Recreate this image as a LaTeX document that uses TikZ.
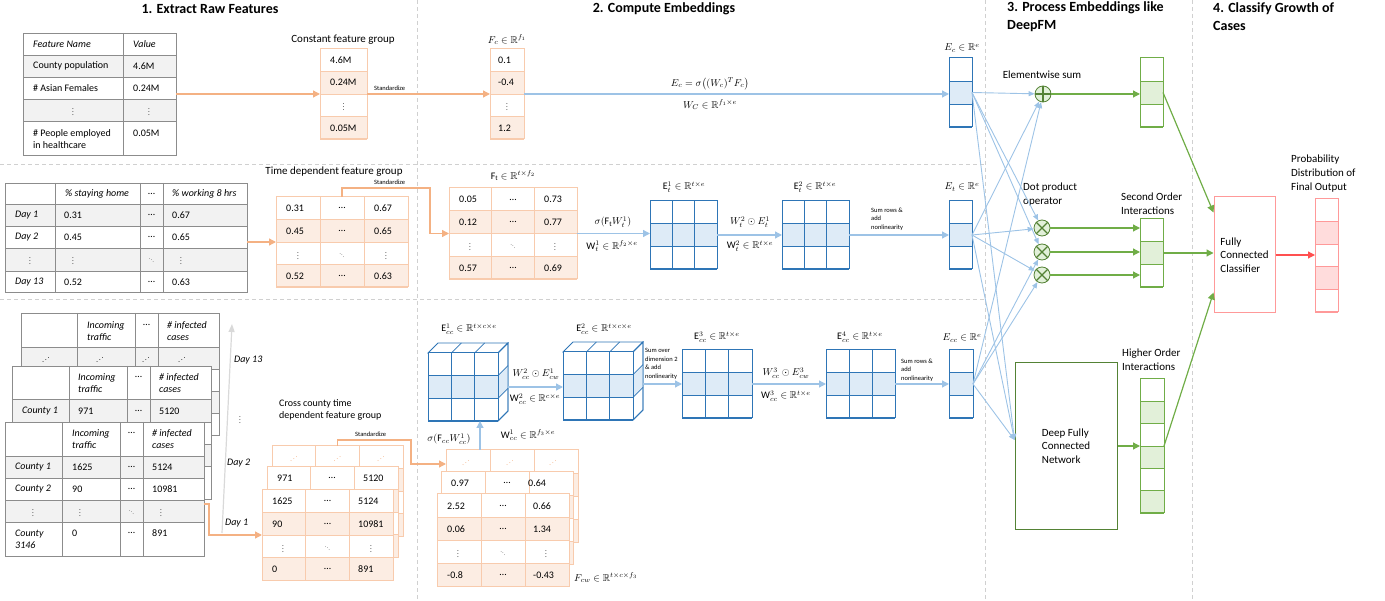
\documentclass[tikz,border=0pt]{standalone}
\usepackage{fontspec}
\setmainfont{Carlito}
\usepackage{amsmath,amssymb}
\usepackage{graphicx}
\usetikzlibrary{arrows.meta,calc,fit}

\definecolor{tgray}{HTML}{8C8C8C}
\definecolor{rowgray}{HTML}{F2F2F2}
\definecolor{oline}{HTML}{F8CBAD}
\definecolor{ofill}{HTML}{FCEDE3}
\definecolor{oarrow}{HTML}{F4B183}
\definecolor{bline}{HTML}{2E75B6}
\definecolor{bfill}{HTML}{DEEBF7}
\definecolor{barrow}{HTML}{9DC3E6}
\definecolor{gline}{HTML}{70AD47}
\definecolor{gdark}{HTML}{548235}
\definecolor{gfill}{HTML}{E2F0D9}
\definecolor{garrow}{HTML}{70AD47}
\definecolor{rline}{HTML}{FF9999}
\definecolor{rfill}{HTML}{FFDCDC}
\definecolor{rarrow}{HTML}{FF5050}
\definecolor{dashgray}{HTML}{D0D0D0}
\definecolor{axisgray}{HTML}{D9D9D9}

\newcommand{\myvd}{\scalebox{0.7}{$\vdots$}}
\newcommand{\mydd}{\scalebox{0.5}{$\ddots$}}
\newcommand{\myud}{\reflectbox{\scalebox{0.75}{$\ddots$}}}

\tikzset{
  bx/.style={inner sep=0pt, outer sep=0pt},
  tbl/.style={draw=tgray, line width=0.8pt},
  lt/.style={anchor=west, inner sep=0pt, font=\fontsize{10}{12}\selectfont},
  ct/.style={inner sep=0pt, font=\fontsize{10}{12}\selectfont},
  lbl/.style={inner sep=0pt, font=\fontsize{11}{14}\selectfont},
  mlab/.style={inner sep=0pt, font=\fontsize{10}{12}\selectfont},
  tinylab/.style={inner sep=0pt, font=\fontsize{6.5}{8.5}\selectfont, align=left, anchor=west},
  oarr/.style={draw=oarrow, line width=1.3pt, -{Triangle[length=7pt,width=7pt]}},
  barr/.style={draw=barrow, line width=1.3pt, -{Triangle[length=7pt,width=7pt]}},
  fan/.style={draw=barrow, line width=0.9pt, -{Triangle[length=6pt,width=5pt]}},
  garr/.style={draw=garrow, line width=1.2pt, -{Triangle[length=7pt,width=7pt]}},
  rarr/.style={draw=rarrow, line width=1.2pt, -{Triangle[length=7pt,width=7pt]}},
  sep/.style={draw=dashgray, line width=0.8pt, dash pattern=on 4pt off 3pt},
  ttl/.style={font=\fontsize{14}{18}\selectfont\bfseries, inner sep=0pt},
  circ/.style={circle, draw=gdark, fill=gfill, line width=0.8pt, minimum size=16pt, inner sep=0pt},
}

% name, x0, y0, w, h, ncols, nrows, filled rows, colour prefix
\newcommand{\mgrid}[9]{%
  \fill[white] (#2,#3) rectangle ++(#4,#5);
  \foreach \myr in {#8} {\fill[#9fill] (#2,{#3+(\myr-1)*(#5)/(#7)}) rectangle ++(#4,{(#5)/(#7)});}
  \foreach \myr in {1,...,#7} {\draw[#9line, line width=0.8pt] (#2,{#3+\myr*(#5)/(#7)}) -- ++(#4,0);}
  \foreach \myc in {1,...,#6} {\draw[#9line, line width=0.8pt] ({#2+\myc*(#4)/(#6)},#3) -- ++(0,#5);}
  \node[bx, draw=#9line, line width=1pt, fit={(#2,#3) (#2+#4,#3+#5)}] (#1) {};
}
% cube top and right faces: x0 y0 w h
\newcommand{\cubeside}[4]{%
  \filldraw[bline, line width=0.8pt, fill=white] (#1,#2) -- ++(10,-10) -- ++(#3,0) -- ++(-10,10) -- cycle;
  \filldraw[bline, line width=0.8pt, fill=white] (#1+#3,#2) -- ++(10,-10) -- ++(0,#4) -- ++(-10,10) -- cycle;
  \fill[bfill] (#1+#3,{#2+(#4)/3}) -- ++(10,-10) -- ++(0,{(#4)/3}) -- ++(-10,10) -- cycle;
  \draw[bline, line width=0.8pt] ({#1+(#3)/3},#2) -- ++(10,-10) ({#1+2*(#3)/3},#2) -- ++(10,-10);
  \draw[bline, line width=0.8pt] (#1+#3,{#2+(#4)/3}) -- ++(10,-10) (#1+#3,{#2+2*(#4)/3}) -- ++(10,-10);
  \draw[bline, line width=0.8pt] (#1+#3,#2) -- ++(10,-10) -- ++(0,#4) -- ++(-10,10);
}

\begin{document}
\begin{tikzpicture}[x=1pt,y=-1pt]
\useasboundingbox (0,0) rectangle (1385,601);

% separators
\draw[sep] (417,0) -- (417,601);
\draw[sep] (985,0) -- (985,601);
\draw[sep] (1192,0) -- (1192,601);
\draw[sep] (0,164) -- (985,164);
\draw[sep] (0,299) -- (985,299);

% titles
\node[ttl] (h1) at (210,9) {1. Extract Raw Features};
\node[ttl] (h2) at (664,9) {2. Compute Embeddings};
\node[ttl, anchor=west, align=left] (h3) at (1007,17) {3. Process Embeddings like\\DeepFM};
\node[ttl, anchor=west, align=left] (h4) at (1213,17) {4. Classify Growth of\\Cases};

%================ Row 1 =================
\fill[rowgray] (23,55) rectangle (176,77);
\fill[rowgray] (23,99) rectangle (176,121);
\foreach \yy in {55,77,99,121} \draw[tbl] (23,\yy) -- (176,\yy);
\draw[tbl] (123,33) -- (123,155);
\node[bx, draw=tgray, line width=0.8pt, fit={(23,33) (176,155)}] (t1) {};
\node[lt] (t1a) at (33,44) {\textit{Feature Name}};
\node[lt] (t1b) at (133,44) {\textit{Value}};
\node[lt] (t1c) at (33,66) {County population};
\node[lt] (t1d) at (133,66) {4.6M};
\node[lt] (t1e) at (33,88) {\# Asian Females};
\node[lt] (t1f) at (133,88) {0.24M};
\node[ct] (t1g) at (73,110) {\myvd};
\node[ct] (t1h) at (149,110) {\myvd};
\node[lt, align=left] (t1i) at (33,139) {\# People employed\\in healthcare};
\node[lt] (t1j) at (133,133) {0.05M};

\node[lbl] (cfgl) at (343,40) {Constant feature group};
\mgrid{cfg}{320}{49}{47}{90}{1}{4}{2,4}{o}
\node[lt] (c1) at (330,60) {4.6M};
\node[lt] (c2) at (330,82) {0.24M};
\node[ct] (c3) at (343.5,105) {\myvd};
\node[lt] (c4) at (330,128) {0.05M};

\draw[oarr] (t1.east) -- (cfg.west);
\draw[oarr] (cfg.east) -- (cfg.east -| 490,0);
\node[tinylab] (std1) at (374,88) {Standardize};

\node[mlab] (Fcl) at (507,40) {$F_c\in\mathbb{R}^{f_1}$};
\mgrid{Fc}{490}{49}{34}{90}{1}{4}{2,4}{o}
\node[lt] (f1) at (498,60) {0.1};
\node[lt] (f2) at (498,82) {-0.4};
\node[ct] (f3) at (507,105) {\myvd};
\node[lt] (f4) at (498,128) {1.2};

\mgrid{Ec}{949}{58}{23}{69}{1}{3}{2}{b}
\node[mlab] (Ecl) at (962,48) {$E_c\in\mathbb{R}^{e}$};
\draw[barr] (Fc.east) -- (Fc.east -| Ec.west);
\node[mlab] (eq1) at (710,84) {$E_c=\sigma\big((W_c)^T F_c\big)$};
\node[mlab] (eq2) at (710,105) {$W_C\in\mathbb{R}^{f_1\times e}$};

%================ Row 2 =================
\fill[rowgray] (5,204) rectangle (247,226);
\fill[rowgray] (5,248) rectangle (247,271);
\foreach \yy in {204,226,248,271} \draw[tbl] (5,\yy) -- (247,\yy);
\foreach \xx in {55,140,163} \draw[tbl] (\xx,183) -- (\xx,292);
\node[bx, draw=tgray, line width=0.8pt, fit={(5,183) (247,292)}] (t2) {};
\node[lt] (t2a) at (65,194) {\textit{\% staying home}};
\node[ct] (t2b) at (151.5,194) {…};
\node[lt] (t2c) at (172,194) {\textit{\% working 8 hrs}};
\node[lt] (t2d) at (15,215) {\textit{Day 1}};
\node[lt] (t2e) at (64,215) {0.31};
\node[ct] (t2f) at (151.5,215) {…};
\node[lt] (t2g) at (172,215) {0.67};
\node[lt] (t2h) at (15,237) {\textit{Day 2}};
\node[lt] (t2i) at (64,237) {0.45};
\node[ct] (t2j) at (151.5,237) {…};
\node[lt] (t2k) at (172,237) {0.65};
\node[ct] (t2l) at (30,259) {\myvd};
\node[ct] (t2m) at (73,259) {\myvd};
\node[ct] (t2n) at (151.5,259) {\mydd};
\node[ct] (t2o) at (181,259) {\myvd};
\node[lt] (t2p) at (15,282) {\textit{Day 13}};
\node[lt] (t2q) at (64,282) {0.52};
\node[ct] (t2r) at (151.5,282) {…};
\node[lt] (t2s) at (172,282) {0.63};

\node[lbl] (tml) at (334,172) {Time dependent feature group};
\mgrid{tm}{276}{197}{132}{90}{3}{4}{2,4}{o}
\node[lt] (m1) at (286,208) {0.31};
\node[ct] (m2) at (342,208) {…};
\node[lt] (m3) at (374,208) {0.67};
\node[lt] (m4) at (286,231) {0.45};
\node[ct] (m5) at (342,231) {…};
\node[lt] (m6) at (374,231) {0.65};
\node[ct] (m7) at (298,254) {\myvd};
\node[ct] (m8) at (342,254) {\mydd};
\node[ct] (m9) at (386,254) {\myvd};
\node[lt] (m10) at (286,276) {0.52};
\node[ct] (m11) at (342,276) {…};
\node[lt] (m12) at (374,276) {0.63};
\draw[oarr] (t2.east |- tm.west) -- (tm.west);

\mgrid{Ft}{449}{188}{128}{91}{3}{4}{2,4}{o}
\node[mlab] (Ftl) at (513,176) {$\mathrm{F_t}\in\mathbb{R}^{t\times f_2}$};
\node[lt] (n1) at (459,199.5) {0.05};
\node[ct] (n2) at (513,199.5) {…};
\node[lt] (n3) at (544,199.5) {0.73};
\node[lt] (n4) at (459,222) {0.12};
\node[ct] (n5) at (513,222) {…};
\node[lt] (n6) at (544,222) {0.77};
\node[ct] (n7) at (470,245) {\myvd};
\node[ct] (n8) at (513,245) {\mydd};
\node[ct] (n9) at (555,245) {\myvd};
\node[lt] (n10) at (459,268) {0.57};
\node[ct] (n11) at (513,268) {…};
\node[lt] (n12) at (544,268) {0.69};
\draw[oarr] (tm.north) -- ++(0,-9) -| ([xshift=-19pt]Ft.west) -- (Ft.west);
\node[tinylab] (std2) at (374,182) {Standardize};

\mgrid{Et1}{650}{201}{67}{68}{3}{3}{2}{b}
\mgrid{Et2}{782}{201}{67}{68}{3}{3}{2}{b}
\mgrid{Et}{949}{201}{23}{68}{1}{3}{2}{b}
\node[mlab] (Et1l) at (684,187) {$\mathrm{E}_t^1\in\mathbb{R}^{t\times e}$};
\node[mlab] (Et2l) at (815,187) {$\mathrm{E}_t^2\in\mathbb{R}^{t\times e}$};
\node[mlab] (Etl) at (962,187) {$E_t\in\mathbb{R}^{e}$};
\draw[barr] (Ft.east) -- (Ft.east -| Et1.west);
\node[mlab] (eq3) at (613,222) {$\sigma(\mathrm{F_t}W_t^1)$};
\node[mlab] (eq4) at (612,246) {$\mathrm{W}_t^1\in\mathbb{R}^{f_2\times e}$};
\draw[barr] (Et1.east) -- (Et2.west);
\node[mlab] (eq5) at (750,222) {$W_t^2\odot E_t^1$};
\node[mlab] (eq6) at (750,246) {$\mathrm{W}_t^2\in\mathbb{R}^{t\times e}$};
\draw[barr] (Et2.east) -- (Et.west);
\node[tinylab] (sr1) at (871,219) {Sum rows \&\\add\\nonlinearity};

%================ Row 3 =================
% back table
\fill[white] (21,313) rectangle (219,435);
\fill[rowgray] (21,347) rectangle (219,369);
\fill[rowgray] (21,391) rectangle (219,413);
\foreach \yy in {347,369,391,413} \draw[tbl] (21,\yy) -- (219,\yy);
\foreach \xx in {77,135,158} \draw[tbl] (\xx,313) -- (\xx,435);
\node[bx, draw=tgray, line width=0.8pt, fit={(21,313) (219,435)}] (BT) {};
\node[lt, align=left, font=\fontsize{10}{12}\selectfont\itshape] (bt1) at (87,331) {Incoming\\traffic};
\node[ct] (bt2) at (146.5,325) {…};
\node[lt, align=left, font=\fontsize{10}{12}\selectfont\itshape] (bt3) at (167,331) {\# infected\\cases};
\node[ct] (bt4) at (46,358) {\myud};
\node[ct] (bt5) at (100,358) {\myud};
\node[ct] (bt6) at (146,358) {\myud};
\node[ct] (bt7) at (182,358) {\myud};

% middle table
\fill[white] (12,366) rectangle (211,499);
\fill[rowgray] (12,399) rectangle (211,422);
\fill[rowgray] (12,444) rectangle (211,466);
\foreach \yy in {399,422,444,466} \draw[tbl] (12,\yy) -- (211,\yy);
\foreach \xx in {69,127,150} \draw[tbl] (\xx,366) -- (\xx,499);
\node[bx, draw=tgray, line width=0.8pt, fit={(12,366) (211,499)}] (MT) {};
\node[lt, align=left, font=\fontsize{10}{12}\selectfont\itshape] (mt1) at (78,383) {Incoming\\traffic};
\node[ct] (mt2) at (138.5,377) {…};
\node[lt, align=left, font=\fontsize{10}{12}\selectfont\itshape] (mt3) at (159,383) {\# infected\\cases};
\node[lt] (mt4) at (22,411) {\textit{County 1}};
\node[lt] (mt5) at (78,411) {971};
\node[ct] (mt6) at (138.5,411) {…};
\node[lt] (mt7) at (159,411) {5120};

% front table
\fill[white] (5,422) rectangle (204,556);
\fill[rowgray] (5,456) rectangle (204,478);
\fill[rowgray] (5,500) rectangle (204,522);
\foreach \yy in {456,478,500,522} \draw[tbl] (5,\yy) -- (204,\yy);
\foreach \xx in {62,120,143} \draw[tbl] (\xx,422) -- (\xx,556);
\node[bx, draw=tgray, line width=0.8pt, fit={(5,422) (204,556)}] (FT) {};
\node[lt, align=left, font=\fontsize{10}{12}\selectfont\itshape] (ft1) at (72,439) {Incoming\\traffic};
\node[ct] (ft2) at (131.5,433) {…};
\node[lt, align=left, font=\fontsize{10}{12}\selectfont\itshape] (ft3) at (152,439) {\# infected\\cases};
\node[lt] (ft4) at (15,467) {\textit{County 1}};
\node[lt] (ft5) at (72,467) {1625};
\node[ct] (ft6) at (131.5,467) {…};
\node[lt] (ft7) at (152,467) {5124};
\node[lt] (ft8) at (15,489) {\textit{County 2}};
\node[lt] (ft9) at (72,489) {90};
\node[ct] (ft10) at (131.5,489) {…};
\node[lt] (ft11) at (152,489) {10981};
\node[ct] (ft12) at (33,511) {\myvd};
\node[ct] (ft13) at (80,511) {\myvd};
\node[ct] (ft14) at (131.5,511) {\mydd};
\node[ct] (ft15) at (161,511) {\myvd};
\node[lt, align=left, font=\fontsize{10}{12}\selectfont\itshape] (ft16) at (15,539) {County\\3146};
\node[lt] (ft17) at (72,533) {0};
\node[ct] (ft18) at (131.5,533) {…};
\node[lt] (ft19) at (152,533) {891};

% day axis
\coordinate (d0) at (222,533);
\coordinate (d1) at (232,324);
\draw[draw=axisgray, line width=1.2pt, -{Triangle[length=8pt,width=6pt]}] (d0) -- (d1);
\node[lt, font=\fontsize{10}{12}\selectfont\itshape] (dy13) at (234,360) {Day 13};
\node[ct] (dyv) at (240,418) {\myvd};
\node[lt, font=\fontsize{10}{12}\selectfont\itshape] (dy2) at (227,463) {Day 2};
\node[lt, font=\fontsize{10}{12}\selectfont\itshape] (dy1) at (225,523) {Day 1};

\node[lbl, anchor=west, align=left, font=\fontsize{10}{12}\selectfont] (ccl) at (279,410) {Cross county time\\dependent feature group};

% cross county feature stack
\mgrid{ccB}{272}{446}{131}{90}{3}{4}{2,4}{o}
\mgrid{ccM}{267}{467}{131}{90}{3}{4}{2,4}{o}
\mgrid{ccF}{262}{490}{131}{90}{3}{4}{2,4}{o}
\node[ct, text=oarrow] (cb1) at (294,457) {\myud};
\node[ct, text=oarrow] (cb2) at (337.5,457) {\myud};
\node[ct, text=oarrow] (cb3) at (381,457) {\myud};
\node[lt] (cm1) at (277,478) {971};
\node[ct] (cm2) at (332,478) {…};
\node[lt] (cm3) at (363,478) {5120};
\node[lt] (cf1) at (272,501) {1625};
\node[ct] (cf2) at (327.5,501) {…};
\node[lt] (cf3) at (358,501) {5124};
\node[lt] (cf4) at (272,524) {90};
\node[ct] (cf5) at (327.5,524) {…};
\node[lt] (cf6) at (358,524) {10981};
\node[ct] (cf7) at (283,547) {\myvd};
\node[ct] (cf8) at (327.5,547) {\mydd};
\node[ct] (cf9) at (371,547) {\myvd};
\node[lt] (cf10) at (272,569) {0};
\node[ct] (cf11) at (327.5,569) {…};
\node[lt] (cf12) at (358,569) {891};

\coordinate (ftout) at (204,504);
\draw[oarr] (ftout) -- ++(5,0) |- (ccF.west);

% Fcw stack
\mgrid{fwB}{446}{450}{132}{92}{3}{4}{2,4}{o}
\mgrid{fwM}{441}{472}{132}{92}{3}{4}{2,4}{o}
\mgrid{fwF}{437}{494}{132}{92}{3}{4}{2,4}{o}
\node[ct, text=oarrow] (wb1) at (466,461) {\myud};
\node[ct, text=oarrow] (wb2) at (510,461) {\myud};
\node[ct, text=oarrow] (wb3) at (553,461) {\myud};
\node[lt] (wm1) at (451,483) {0.97};
\node[ct] (wm2) at (507,483) {…};
\node[lt] (wm3) at (528,483) {0.64};
\node[lt] (wf1) at (447,506) {2.52};
\node[ct] (wf2) at (503,506) {…};
\node[lt] (wf3) at (533,506) {0.66};
\node[lt] (wf4) at (447,529) {0.06};
\node[ct] (wf5) at (503,529) {…};
\node[lt] (wf6) at (533,529) {1.34};
\node[ct] (wf7) at (458,552) {\myvd};
\node[ct] (wf8) at (503,552) {\mydd};
\node[ct] (wf9) at (546,552) {\myvd};
\node[lt] (wf10) at (447,575) {-0.8};
\node[ct] (wf11) at (503,575) {…};
\node[lt] (wf12) at (533,575) {-0.43};
\node[mlab, anchor=west] (Fcwl) at (574,578) {$F_{cw}\in\mathbb{R}^{t\times c\times f_3}$};

\draw[oarr] (ccB.north) -- ++(0,-6) -| ($(fwB.north west)+(-35,14)$) -- ($(fwB.north west)+(0,14)$);
\node[tinylab] (std3) at (355,434) {Standardize};

% cubes
\cubeside{428}{353}{70}{68}
\mgrid{E1}{428}{353}{70}{68}{3}{3}{2}{b}
\cubeside{563}{352}{70}{68}
\mgrid{E2}{563}{352}{70}{68}{3}{3}{2}{b}
\node[mlab] (E1l) at (469,329) {$\mathrm{E}_{cc}^1\in\mathbb{R}^{t\times c\times e}$};
\node[mlab] (E2l) at (604,329) {$\mathrm{E}_{cc}^2\in\mathbb{R}^{t\times c\times e}$};

\coordinate (fwtop) at ($(fwB.north west)+(34,0)$);
\draw[barr] (fwtop) -- (fwtop |- E1.south);
\node[mlab] (eq7) at (449,439) {$\sigma(\mathrm{F}_{cc}W_{cc}^1)$};
\node[mlab] (eq8) at (528,435) {$\mathrm{W}_{cc}^1\in\mathbb{R}^{f_3\times e}$};

\coordinate (E1r) at ($(E1.east)+(10,0)$);
\draw[barr] (E1r) -- (E1r -| E2.west);
\node[mlab] (eq9) at (536,374) {$W_{cc}^2\odot E_{cw}^1$};
\node[mlab] (eq10) at (535,399) {$\mathrm{W}_{cc}^2\in\mathbb{R}^{c\times e}$};

\mgrid{E3}{682}{350}{70}{68}{3}{3}{2}{b}
\mgrid{E4}{826}{350}{69}{68}{3}{3}{2}{b}
\mgrid{Ecc}{949}{350}{24}{68}{1}{3}{2}{b}
\node[mlab] (E3l) at (717,337) {$\mathrm{E}_{cc}^3\in\mathbb{R}^{t\times e}$};
\node[mlab] (E4l) at (860,337) {$\mathrm{E}_{cc}^4\in\mathbb{R}^{t\times e}$};
\node[mlab] (Eccl) at (962,338) {$E_{cc}\in\mathbb{R}^{e}$};

\coordinate (E2r) at ($(E2.east)+(10,0)$);
\draw[barr] (E2r |- E3.west) -- (E3.west);
\node[tinylab] (so1) at (645,364) {Sum over\\dimension 2\\\& add\\nonlinearity};
\draw[barr] (E3.east) -- (E4.west);
\node[mlab] (eq11) at (786,373) {$W_{cc}^3\odot E_{cw}^3$};
\node[mlab] (eq12) at (786,396) {$\mathrm{W}_{cc}^3\in\mathbb{R}^{t\times e}$};
\draw[barr] (E4.east) -- (Ecc.west);
\node[tinylab] (sr2) at (901,370) {Sum rows \&\\add\\nonlinearity};

%================ DeepFM part =================
\node[circ] (plus) at (1043,94) {};
\draw[gdark, line width=1.3pt] (plus.north) -- (plus.south) (plus.west) -- (plus.east);
\node[circ] (o1) at (1042,228) {};
\node[circ] (o2) at (1042,252) {};
\node[circ] (o3) at (1042,275) {};
\foreach \oo in {o1,o2,o3} {
  \draw[gdark, line width=1.1pt] (\oo.north west) -- (\oo.south east) (\oo.north east) -- (\oo.south west);
}
\node[lbl] (esl) at (1042,75) {Elementwise sum};
\node[lbl, anchor=west, align=left] (dpl) at (1023,195) {Dot product\\operator};

\node[draw=gdark, line width=1pt, minimum width=102pt, minimum height=166pt, align=left, inner sep=0pt, font=\fontsize{11}{13.5}\selectfont] (dnn) at (1066,446) {Deep Fully\\Connected\\Network};

% fan lines
\draw[fan] (Ec.east) -- (plus);
\draw[fan] (Ec.east) -- (o1);
\draw[fan] (Ec.east) -- (o2);
\draw[fan] (Ec.east) -- ([yshift=6pt]dnn.west);
\draw[fan] (Et.east) -- (plus);
\draw[fan] (Et.east) -- (o1);
\draw[fan] (Et.east) -- (o3);
\draw[fan] (Et.east) -- ([yshift=6pt]dnn.west);
\draw[fan] (Ecc.east) -- (plus);
\draw[fan] (Ecc.east) -- (o2);
\draw[fan] (Ecc.east) -- (o3);
\draw[fan] (Ecc.east) -- ([yshift=6pt]dnn.west);

\mgrid{G1}{1140}{58}{23}{69}{1}{3}{2}{g}
\mgrid{G2}{1140}{219}{23}{68}{1}{3}{2}{g}
\mgrid{G3}{1140}{379}{24}{134}{1}{6}{2,4,6}{g}
\node[lbl, anchor=west, align=left] (sol) at (1121,203.5) {Second Order\\Interactions};
\node[lbl, anchor=west, align=left] (hol) at (1122,360) {Higher Order\\Interactions};

\draw[garr] (plus.east) -- (plus.east -| G1.west);
\draw[garr] (o1.east) -- (o1.east -| G2.west);
\draw[garr] (o2.east) -- (o2.east -| G2.west);
\draw[garr] (o3.east) -- (o3.east -| G2.west);
\draw[garr] (dnn.east) -- (dnn.east -| G3.west);

\node[draw=rline, line width=1pt, minimum width=61pt, minimum height=116pt, align=left, inner sep=0pt, font=\fontsize{11}{13.5}\selectfont] (clf) at (1244.5,255) {Fully\\Connected\\Classifier};
\mgrid{P}{1315}{199}{23}{113}{1}{5}{2,4}{r}
\node[lbl, anchor=west, align=left] (pl) at (1291,174) {Probability\\Distribution of\\Final Output};

\draw[garr] (G1.east) -- ($(clf.north west)+(0,16)$);
\draw[garr] (G2.east) -- (G2.east -| clf.west);
\draw[garr] (G3.east) -- ($(clf.south west)+(0,-21)$);
\draw[rarr] (clf.east) -- (clf.east -| P.west);

\end{tikzpicture}
\end{document}
